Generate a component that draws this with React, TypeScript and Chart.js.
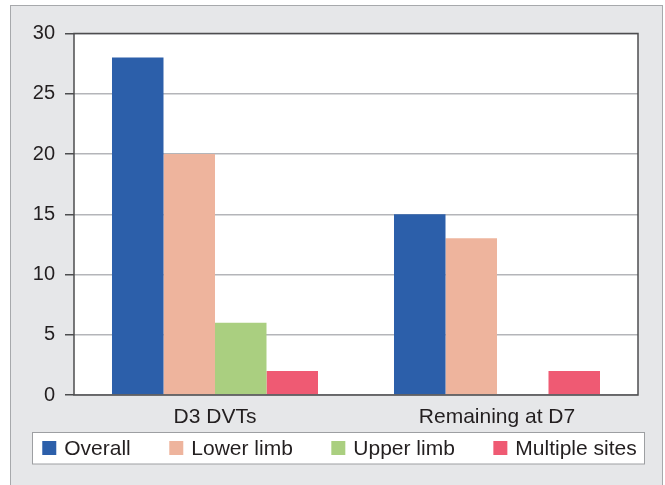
import React, { useEffect, useRef } from "react";
import { Chart, registerables } from "chart.js";

Chart.register(...registerables);

const categories = ["D3 DVTs", "Remaining at D7"];
const seriesNames = ["Overall", "Lower limb", "Upper limb", "Multiple sites"];
const overall = [28, 15];
const lowerLimb = [20, 13];
const upperLimb = [6, 0];
const multipleSites = [2, 2];
const seriesColors = ["#2c5faa", "#eeb49d", "#aacf80", "#ef5a73"];
const yMin = 0;
const yMax = 30;
const yStep = 5;

const FONT = '"Liberation Sans", Arial, sans-serif';
const TEXT = "#231f20";

const backgroundPlugin = {
  id: "bgPanel",
  beforeDraw(chart: any) {
    const { ctx, chartArea } = chart;
    ctx.save();
    ctx.fillStyle = "#ffffff";
    ctx.fillRect(0, 0, chart.width, chart.height);
    ctx.fillStyle = "#e6e7e9";
    ctx.fillRect(10.5, 5.5, 652, 490);
    ctx.strokeStyle = "#a7a9ac";
    ctx.lineWidth = 1;
    ctx.strokeRect(10.5, 5.5, 652, 490);
    ctx.fillStyle = "#ffffff";
    ctx.fillRect(chartArea.left, chartArea.top, chartArea.right - chartArea.left, chartArea.bottom - chartArea.top);
    ctx.restore();
  },
  afterDatasetsDraw(chart: any) {
    const { ctx, chartArea } = chart;
    ctx.save();
    ctx.strokeStyle = "#4d4d4f";
    ctx.lineWidth = 1.5;
    ctx.strokeRect(chartArea.left, chartArea.top, chartArea.right - chartArea.left, chartArea.bottom - chartArea.top);
    ctx.restore();
  },
  afterDraw(chart: any) {
    const { ctx } = chart;
    ctx.save();
    ctx.fillStyle = "#ffffff";
    ctx.fillRect(32.5, 432.5, 612, 31.5);
    ctx.strokeStyle = "#9d9fa2";
    ctx.lineWidth = 1;
    ctx.strokeRect(32.5, 432.5, 612, 31.5);
    ctx.font = `21px ${FONT}`;
    const box = 14;
    const gap = 8;
    const spacing = 38.5;
    const ds = chart.data.datasets;
    const widths = ds.map((d: any) => ctx.measureText(d.label).width);
    const total = widths.reduce((a: number, w: number) => a + w + box + gap, 0) + spacing * (ds.length - 1);
    let x = 339.5 - total / 2;
    const cy = 448;
    ctx.textBaseline = "middle";
    ctx.textAlign = "left";
    ds.forEach((d: any, i: number) => {
      ctx.fillStyle = d.backgroundColor;
      ctx.fillRect(x, cy - box / 2, box, box);
      ctx.fillStyle = TEXT;
      ctx.fillText(d.label, x + box + gap, cy + 1);
      x += box + gap + widths[i] + spacing;
    });
    ctx.restore();
  },
};

export default function App() {
  const ref = useRef<HTMLCanvasElement | null>(null);
  useEffect(() => {
    if (!ref.current) return;
    const values = [overall, lowerLimb, upperLimb, multipleSites];
    const chart = new Chart(ref.current, {
      type: "bar",
      data: {
        labels: categories,
        datasets: seriesNames.map((name, i) => ({
          label: name,
          data: values[i],
          backgroundColor: seriesColors[i],
          borderWidth: 0,
          categoryPercentage: 0.7305,
          barPercentage: 1,
        })),
      },
      options: {
        animation: false,
        responsive: false,
        maintainAspectRatio: false,
        devicePixelRatio: 1,
        layout: { padding: { left: 10, right: 27, top: 33.5, bottom: 50 } },
        plugins: { legend: { display: false }, tooltip: { enabled: false } },
        scales: {
          x: {
            grid: { display: false, drawTicks: false },
            border: { display: false },
            ticks: { font: { family: FONT, size: 21 }, color: TEXT, padding: 10 },
            afterFit: (s: any) => {
              s.height = 40;
            },
          },
          y: {
            min: yMin,
            max: yMax,
            ticks: { stepSize: yStep, font: { family: FONT, size: 20 }, color: TEXT, padding: 10 },
            grid: { color: "#b4b5b9", lineWidth: 1.5, tickLength: 9, tickColor: "#4d4d4f", tickWidth: 1.5 },
            border: { display: false },
            afterFit: (s: any) => {
              s.width = 64;
            },
          },
        },
      },
      plugins: [backgroundPlugin],
    });
    return () => chart.destroy();
  }, []);
  return (
    <div style={{ position: "absolute", left: 0, top: 0, width: 665, height: 485 }}>
      <canvas ref={ref} width={665} height={485} style={{ display: "block", width: 665, height: 485 }} />
    </div>
  );
}
